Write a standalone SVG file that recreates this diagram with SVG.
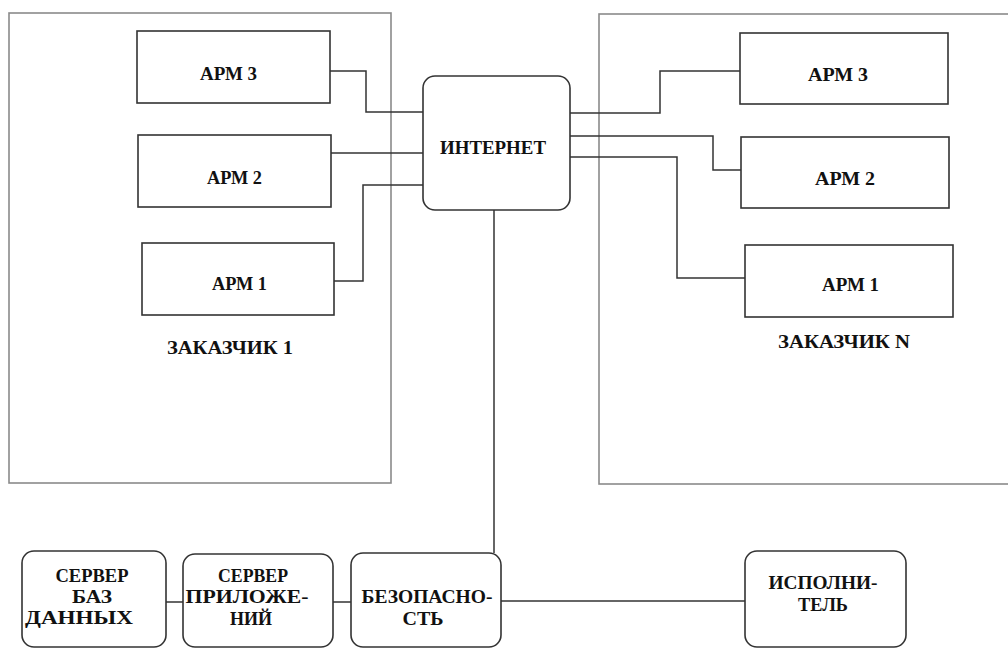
<svg xmlns="http://www.w3.org/2000/svg" width="1008" height="648" viewBox="0 0 1008 648">
<style>
.cont{fill:none;stroke:#8a8a8a;stroke-width:1.6}
.box{fill:#fff;stroke:#333;stroke-width:1.6}
.ln{fill:none;stroke:#333;stroke-width:1.5}
text{font-family:"Liberation Serif","DejaVu Serif","Times New Roman",serif;font-weight:bold;font-size:18px;fill:#111;text-anchor:middle}
</style>
<rect width="1008" height="648" fill="#fff"/>
<g id="zakazchik1">
<rect class="cont" x="9" y="13" width="382" height="470"/>
<text x="230" y="354" textLength="126" lengthAdjust="spacingAndGlyphs">ЗАКАЗЧИК 1</text>
</g>
<g id="zakazchikN">
<rect class="cont" x="599" y="14" width="420" height="470"/>
<text x="844" y="348" textLength="132" lengthAdjust="spacingAndGlyphs">ЗАКАЗЧИК N</text>
</g>
<g id="connectors">
<path class="ln" d="M330 71 H366 V112 H423"/>
<path class="ln" d="M331 153 H423"/>
<path class="ln" d="M334 281 H363 V185 H423"/>
<path class="ln" d="M570 113 H660 V71 H740"/>
<path class="ln" d="M570 136 H713 V170 H741"/>
<path class="ln" d="M570 157 H677 V278 H745"/>
<path class="ln" d="M494 210 V553"/>
<path class="ln" d="M166 602 H183"/>
<path class="ln" d="M333 602 H351"/>
<path class="ln" d="M501 601 H745"/>
</g>
<g id="l-arm3"><rect class="box" x="137" y="31" width="193" height="72"/><text x="228.5" y="80" textLength="57" lengthAdjust="spacingAndGlyphs">АРМ 3</text></g>
<g id="l-arm2"><rect class="box" x="138" y="135" width="193" height="72"/><text x="234.5" y="184" textLength="55" lengthAdjust="spacingAndGlyphs">АРМ 2</text></g>
<g id="l-arm1"><rect class="box" x="142" y="243" width="192" height="72"/><text x="239.5" y="290" textLength="55" lengthAdjust="spacingAndGlyphs">АРМ 1</text></g>
<g id="r-arm3"><rect class="box" x="740" y="33" width="208" height="71"/><text x="838" y="81" textLength="60" lengthAdjust="spacingAndGlyphs">АРМ 3</text></g>
<g id="r-arm2"><rect class="box" x="741" y="137" width="208" height="71"/><text x="845" y="185" textLength="60" lengthAdjust="spacingAndGlyphs">АРМ 2</text></g>
<g id="r-arm1"><rect class="box" x="745" y="245" width="208" height="72"/><text x="850.5" y="291" textLength="57" lengthAdjust="spacingAndGlyphs">АРМ 1</text></g>
<g id="internet"><rect class="box" x="423" y="76" width="147" height="134" rx="12"/><text x="493" y="154" textLength="106" lengthAdjust="spacingAndGlyphs">ИНТЕРНЕТ</text></g>
<g id="db-server"><rect class="box" x="22" y="551" width="144" height="96" rx="12"/>
<text x="92" y="582" textLength="73" lengthAdjust="spacingAndGlyphs">СЕРВЕР</text><text x="92" y="603" textLength="40" lengthAdjust="spacingAndGlyphs">БАЗ</text><text x="79" y="624" textLength="108" lengthAdjust="spacingAndGlyphs">ДАННЫХ</text></g>
<g id="app-server"><rect class="box" x="183" y="554" width="150" height="93" rx="12"/>
<text x="253" y="582" textLength="70" lengthAdjust="spacingAndGlyphs">СЕРВЕР</text><text x="247" y="603" textLength="123" lengthAdjust="spacingAndGlyphs">ПРИЛОЖЕ-</text><text x="251" y="625" textLength="42" lengthAdjust="spacingAndGlyphs">НИЙ</text></g>
<g id="security"><rect class="box" x="351" y="553" width="150" height="94" rx="12"/>
<text x="427" y="603" textLength="131" lengthAdjust="spacingAndGlyphs">БЕЗОПАСНО-</text><text x="423" y="625" textLength="41" lengthAdjust="spacingAndGlyphs">СТЬ</text></g>
<g id="executor"><rect class="box" x="745" y="551" width="161" height="96" rx="12"/>
<text x="823" y="589" textLength="109" lengthAdjust="spacingAndGlyphs">ИСПОЛНИ-</text><text x="823" y="611" textLength="50" lengthAdjust="spacingAndGlyphs">ТЕЛЬ</text></g>
</svg>
